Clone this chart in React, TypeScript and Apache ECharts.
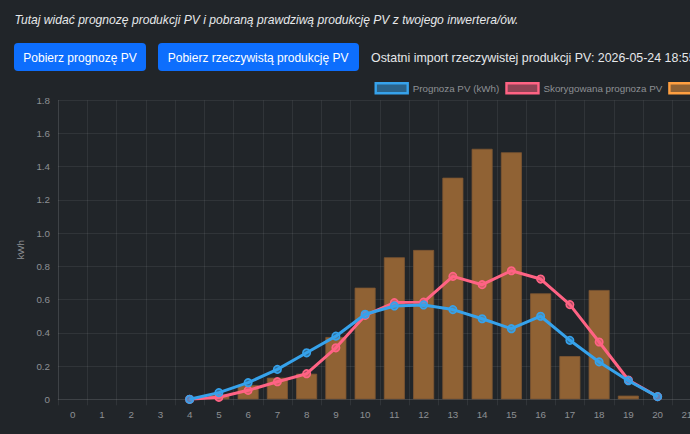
import React, { useEffect, useRef } from "react";
import * as echarts from "echarts";

const hours: string[] = Array.from({ length: 24 }, (_, i) => String(i));

const forecastPV: (number | null)[] = [
  null, null, null, null, 0, 0.04, 0.1, 0.18, 0.28, 0.38, 0.512, 0.562,
  0.568, 0.54, 0.485, 0.425, 0.5, 0.355, 0.225, 0.112, 0.016, null, null, null,
];

const correctedPV: (number | null)[] = [
  null, null, null, null, 0, 0.012, 0.054, 0.106, 0.154, 0.31, 0.505, 0.582,
  0.585, 0.74, 0.69, 0.774, 0.724, 0.57, 0.345, 0.116, 0.016, null, null, null,
];

const actualPV: (number | null)[] = [
  null, null, null, null, null, 0.028, 0.086, 0.13, 0.154, 0.375, 0.672, 0.855,
  0.899, 1.334, 1.508, 1.487, 0.638, 0.26, 0.658, 0.022, null, null, null, null,
];

const seriesNames = [
  "Prognoza PV (kWh)",
  "Skorygowana prognoza PV",
  "Rzeczywista produkcja PV (kWh)",
];

const yTicks = { min: 0, max: 1.8, interval: 0.2 };

const BG = "#212529";
const FONT = "'Liberation Sans', Arial, Helvetica, sans-serif";
const TICK = "#8d9094";
const GRID = "rgba(255,255,255,0.07)";

export default function App() {
  const ref = useRef<HTMLDivElement>(null);

  useEffect(() => {
    if (!ref.current) return;
    const chart = echarts.init(ref.current, null, { renderer: "svg" });
    const catW = 29.25;
    chart.setOption({
      animation: false,
      backgroundColor: "transparent",
      textStyle: { fontFamily: FONT },
      legend: {
        left: 374.5,
        top: 82,
        padding: 0,
        itemWidth: 32,
        itemHeight: 10,
        itemGap: 6,
        selectedMode: false,
        textStyle: { color: TICK, fontSize: 9.8, fontFamily: FONT },
        data: [
          {
            name: seriesNames[0],
            icon: "rect",
            itemStyle: { color: "rgba(54,162,235,0.5)", borderColor: "#36a2eb", borderWidth: 2.4 },
          },
          {
            name: seriesNames[1],
            icon: "rect",
            itemStyle: { color: "rgba(255,99,132,0.5)", borderColor: "#ff6384", borderWidth: 2.4 },
          },
          {
            name: seriesNames[2],
            icon: "rect",
            itemStyle: { color: "rgba(255,159,64,0.5)", borderColor: "#ff9f40", borderWidth: 2.4 },
          },
        ],
      },
      grid: {
        left: 58,
        top: 100.3,
        width: catW * hours.length,
        height: 299,
        containLabel: false,
      },
      xAxis: {
        type: "category",
        data: hours,
        boundaryGap: true,
        axisLine: { show: true, lineStyle: { color: GRID } },
        axisTick: { show: true, length: 6, lineStyle: { color: GRID } },
        axisLabel: { color: TICK, fontSize: 9.8, margin: 10, fontFamily: FONT },
        splitLine: { show: true, lineStyle: { color: GRID } },
      },
      yAxis: {
        type: "value",
        min: yTicks.min,
        max: yTicks.max,
        interval: yTicks.interval,
        name: "kWh",
        nameLocation: "middle",
        nameGap: 28,
        nameTextStyle: { color: TICK, fontSize: 9.8, fontFamily: FONT },
        axisLine: { show: true, lineStyle: { color: GRID } },
        axisTick: { show: false },
        axisLabel: {
          color: TICK,
          fontSize: 9.8,
          margin: 8,
          fontFamily: FONT,
          formatter: (v: number) => (v === 0 ? "0" : v.toFixed(1)),
        },
        splitLine: { show: true, lineStyle: { color: GRID } },
      },
      series: [
        {
          name: seriesNames[0],
          type: "line",
          data: forecastPV,
          z: 4,
          symbol: "circle",
          symbolSize: 7.5,
          showSymbol: true,
          lineStyle: { color: "#36a2eb", width: 3 },
          itemStyle: { color: "rgba(54,162,235,0.6)", borderColor: "#36a2eb", borderWidth: 1.6 },
        },
        {
          name: seriesNames[1],
          type: "line",
          data: correctedPV,
          z: 3,
          symbol: "circle",
          symbolSize: 7.5,
          showSymbol: true,
          lineStyle: { color: "#ff6384", width: 3 },
          itemStyle: { color: "rgba(255,99,132,0.6)", borderColor: "#ff6384", borderWidth: 1.6 },
        },
        {
          name: seriesNames[2],
          type: "bar",
          data: actualPV,
          z: 2,
          barWidth: 21,
          itemStyle: { color: "#906234", borderColor: "#7c5632", borderWidth: 0.8 },
        },
      ],
    });
    return () => chart.dispose();
  }, []);

  const btn: React.CSSProperties = {
    position: "absolute",
    top: 43,
    height: 28,
    lineHeight: "28px",
    background: "#0d6efd",
    color: "#ffffff",
    borderRadius: 4,
    fontSize: 12,
    fontFamily: FONT,
    textAlign: "center",
    whiteSpace: "nowrap",
    paddingTop: 1,
    boxSizing: "border-box",
  };

  return (
    <div
      style={{
        position: "fixed",
        left: 0,
        top: 0,
        width: 690,
        height: 434,
        overflow: "hidden",
        background: BG,
      }}
    >
      <div ref={ref} style={{ position: "absolute", left: 0, top: 0, width: 1000, height: 434 }} />
      <div
        style={{
          position: "absolute",
          left: 14.5,
          top: 12.7,
          fontSize: 12.1,
          lineHeight: "15px",
          fontStyle: "italic",
          color: "#e6e8ea",
          fontFamily: FONT,
          whiteSpace: "nowrap",
        }}
      >
        Tutaj widać prognozę produkcji PV i pobraną prawdziwą produkcję PV z twojego inwertera/ów.
      </div>
      <div style={{ ...btn, left: 14, width: 132 }}>Pobierz prognozę PV</div>
      <div style={{ ...btn, left: 157.6, width: 201 }}>Pobierz rzeczywistą produkcję PV</div>
      <div
        style={{
          position: "absolute",
          left: 371,
          top: 43,
          height: 28,
          lineHeight: "28px",
          paddingTop: 1,
          fontSize: 12.4,
          color: "#e6e8ea",
          fontFamily: FONT,
          whiteSpace: "nowrap",
        }}
      >
        Ostatni import rzeczywistej produkcji PV: 2026-05-24 18:55
      </div>
    </div>
  );
}
